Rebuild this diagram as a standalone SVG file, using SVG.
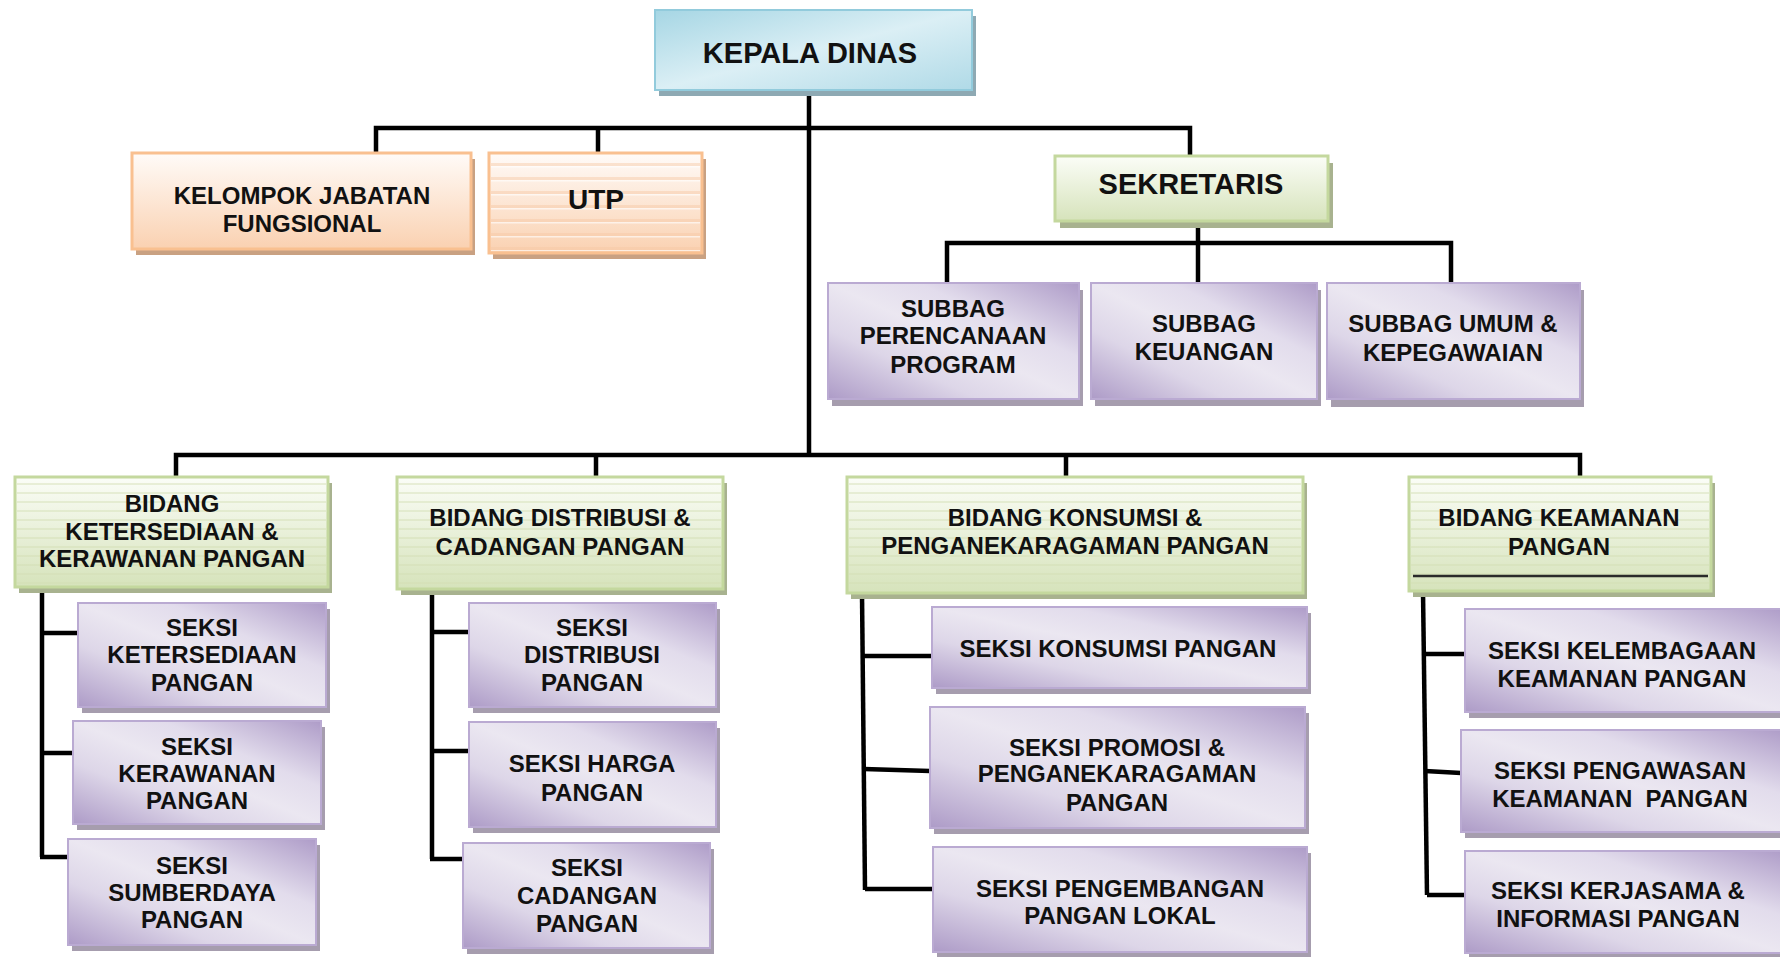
<svg xmlns="http://www.w3.org/2000/svg" width="1780" height="957" viewBox="0 0 1780 957">
<defs>
<style>
.t{font-family:"Liberation Sans",Arial,Helvetica,sans-serif;font-weight:bold;font-size:24px;fill:#111;text-anchor:middle}
.tl{font-size:29px}
.tu{font-size:28px}
.ln{fill:none;stroke:#000;stroke-width:4.5}
.shP{fill:#a69dae}
.shG{fill:#a8b28f}
.shO{fill:#c9a182}
.shB{fill:#8ea9b3}
.bxP{fill:url(#gP);stroke:#baaad2;stroke-width:2}
.bxG{fill:url(#gG);stroke:#c4d89e;stroke-width:3}
.bxGs{fill:url(#pG)}
.bxO{fill:url(#gO);stroke:#f9c090;stroke-width:3}
.bxOs{fill:url(#pO)}
.bxB{fill:url(#gB);stroke:#92cbdc;stroke-width:2}
</style>
<linearGradient id="gP" x1="0" y1="1" x2="1" y2="0">
<stop offset="0" stop-color="#ad9bc7"/>
<stop offset="0.3" stop-color="#ddd6e8"/>
<stop offset="0.5" stop-color="#ebe7f1"/>
<stop offset="0.68" stop-color="#e2dcec"/>
<stop offset="1" stop-color="#ae9cc8"/>
</linearGradient>
<linearGradient id="gG" x1="0" y1="0" x2="0" y2="1">
<stop offset="0" stop-color="#fbfdf7"/>
<stop offset="1" stop-color="#d6e3bb"/>
</linearGradient>
<pattern id="pG" x="0" y="0" width="10" height="9" patternUnits="userSpaceOnUse">
<rect x="0" y="6" width="10" height="2" fill="#d2deb4" opacity="0.45"/>
</pattern>
<linearGradient id="gO" x1="0" y1="0" x2="0" y2="1">
<stop offset="0" stop-color="#fffbf8"/>
<stop offset="1" stop-color="#fad1b1"/>
</linearGradient>
<pattern id="pO" x="0" y="0" width="10" height="14" patternUnits="userSpaceOnUse">
<rect x="0" y="9" width="10" height="3" fill="#f7c9a4" opacity="0.45"/>
<rect x="0" y="12" width="10" height="1.5" fill="#ffffff" opacity="0.6"/>
</pattern>
<linearGradient id="gB" x1="0" y1="0" x2="1" y2="1">
<stop offset="0" stop-color="#a6d6e4"/>
<stop offset="0.5" stop-color="#dbeff5"/>
<stop offset="1" stop-color="#b0dae7"/>
</linearGradient>
</defs>
<rect width="1780" height="957" fill="#ffffff"/>

<g id="connectors">
<path class="ln" d="M809,90 V455"/>
<path class="ln" d="M376,153 V128 H1190 V156"/>
<path class="ln" d="M598,128 V153"/>
<path class="ln" d="M1198,221 V283"/>
<path class="ln" d="M947,283 V243 H1451 V283"/>
<path class="ln" d="M176,477 V455 H1580 V477"/>
<path class="ln" d="M596,455 V477"/>
<path class="ln" d="M1066,455 V477"/>
<path class="ln" d="M42,587 V857"/>
<path class="ln" d="M42,633 H78 M40,753 H73 M40,857 H68"/>
<path class="ln" d="M432,589 V859"/>
<path class="ln" d="M432,632 H469 M432,751 H469 M430,859 H463"/>
<path class="ln" d="M862,593 L865,890"/>
<path class="ln" d="M862,656 H932 M864,769 L930,771 M865,889 H933"/>
<path class="ln" d="M1423,591 L1427,895"/>
<path class="ln" d="M1424,654 H1465 M1425,771 L1461,773 M1427,895 H1465"/>
</g>

<g id="kepala-dinas">
<rect class="shB" x="659" y="16" width="317" height="80"/>
<rect class="bxB" x="655" y="10" width="317" height="80"/>
<text class="t tl" x="810" y="63">KEPALA DINAS</text>
</g>

<g id="kelompok-jabatan-fungsional">
<rect class="shO" x="136" y="159" width="339" height="96"/>
<rect class="bxO" x="132" y="153" width="339" height="96"/>
<text class="t" x="302" y="204">KELOMPOK JABATAN</text>
<text class="t" x="302" y="232">FUNGSIONAL</text>
</g>

<g id="utp">
<rect class="shO" x="493" y="159" width="213" height="100"/>
<rect class="bxO" x="489" y="153" width="213" height="100"/>
<rect class="bxOs" x="491" y="155" width="209" height="96"/>
<text class="t tu" x="596" y="209">UTP</text>
</g>

<g id="sekretaris">
<rect class="shG" x="1060" y="163" width="273" height="65"/>
<rect class="bxG" x="1055" y="156" width="273" height="65"/>
<text class="t tl" x="1191" y="194">SEKRETARIS</text>
</g>

<g id="subbag-perencanaan-program">
<rect class="shP" x="832" y="290" width="251" height="116"/>
<rect class="bxP" x="828" y="283" width="251" height="116"/>
<text class="t" x="953" y="317">SUBBAG</text>
<text class="t" x="953" y="344">PERENCANAAN</text>
<text class="t" x="953" y="373">PROGRAM</text>
</g>

<g id="subbag-keuangan">
<rect class="shP" x="1095" y="290" width="226" height="116"/>
<rect class="bxP" x="1091" y="283" width="226" height="116"/>
<text class="t" x="1204" y="332">SUBBAG</text>
<text class="t" x="1204" y="360">KEUANGAN</text>
</g>

<g id="subbag-umum-kepegawaian">
<rect class="shP" x="1331" y="290" width="253" height="117"/>
<rect class="bxP" x="1327" y="283" width="253" height="116"/>
<text class="t" x="1453" y="332">SUBBAG UMUM &amp;</text>
<text class="t" x="1453" y="361">KEPEGAWAIAN</text>
</g>

<g id="bidang-ketersediaan">
<rect class="shG" x="19" y="483" width="313" height="110"/>
<rect class="bxG" x="15" y="477" width="313" height="110"/>
<rect class="bxGs" x="17" y="479" width="309" height="106"/>
<text class="t" x="172" y="512">BIDANG</text>
<text class="t" x="172" y="540">KETERSEDIAAN &amp;</text>
<text class="t" x="172" y="567">KERAWANAN PANGAN</text>
</g>

<g id="bidang-distribusi">
<rect class="shG" x="401" y="483" width="326" height="112"/>
<rect class="bxG" x="397" y="477" width="326" height="112"/>
<rect class="bxGs" x="399" y="479" width="322" height="108"/>
<text class="t" x="560" y="526">BIDANG DISTRIBUSI &amp;</text>
<text class="t" x="560" y="555">CADANGAN PANGAN</text>
</g>

<g id="bidang-konsumsi">
<rect class="shG" x="851" y="483" width="456" height="116"/>
<rect class="bxG" x="847" y="477" width="456" height="116"/>
<rect class="bxGs" x="849" y="479" width="452" height="112"/>
<text class="t" x="1075" y="526">BIDANG KONSUMSI &amp;</text>
<text class="t" x="1075" y="554">PENGANEKARAGAMAN PANGAN</text>
</g>

<g id="bidang-keamanan">
<rect class="shG" x="1413" y="483" width="302" height="114"/>
<rect class="bxG" x="1409" y="477" width="302" height="114"/>
<rect class="bxGs" x="1411" y="479" width="298" height="110"/>
<line x1="1413" y1="576" x2="1708" y2="576" stroke="#2a2a2a" stroke-width="2.5"/>
<text class="t" x="1559" y="526">BIDANG KEAMANAN</text>
<text class="t" x="1559" y="555">PANGAN</text>
</g>

<g id="seksi-ketersediaan">
<rect class="shP" x="82" y="609" width="248" height="104"/>
<rect class="bxP" x="78" y="603" width="248" height="104"/>
<text class="t" x="202" y="636">SEKSI</text>
<text class="t" x="202" y="663">KETERSEDIAAN</text>
<text class="t" x="202" y="691">PANGAN</text>
</g>

<g id="seksi-kerawanan">
<rect class="shP" x="77" y="727" width="248" height="103"/>
<rect class="bxP" x="73" y="721" width="248" height="103"/>
<text class="t" x="197" y="755">SEKSI</text>
<text class="t" x="197" y="782">KERAWANAN</text>
<text class="t" x="197" y="809">PANGAN</text>
</g>

<g id="seksi-sumberdaya">
<rect class="shP" x="72" y="845" width="248" height="106"/>
<rect class="bxP" x="68" y="839" width="248" height="106"/>
<text class="t" x="192" y="874">SEKSI</text>
<text class="t" x="192" y="901">SUMBERDAYA</text>
<text class="t" x="192" y="928">PANGAN</text>
</g>

<g id="seksi-distribusi">
<rect class="shP" x="473" y="609" width="247" height="104"/>
<rect class="bxP" x="469" y="603" width="247" height="104"/>
<text class="t" x="592" y="636">SEKSI</text>
<text class="t" x="592" y="663">DISTRIBUSI</text>
<text class="t" x="592" y="691">PANGAN</text>
</g>

<g id="seksi-harga">
<rect class="shP" x="473" y="728" width="247" height="105"/>
<rect class="bxP" x="469" y="722" width="247" height="105"/>
<text class="t" x="592" y="772">SEKSI HARGA</text>
<text class="t" x="592" y="801">PANGAN</text>
</g>

<g id="seksi-cadangan">
<rect class="shP" x="467" y="849" width="247" height="105"/>
<rect class="bxP" x="463" y="843" width="247" height="105"/>
<text class="t" x="587" y="876">SEKSI</text>
<text class="t" x="587" y="904">CADANGAN</text>
<text class="t" x="587" y="932">PANGAN</text>
</g>

<g id="seksi-konsumsi">
<rect class="shP" x="936" y="613" width="375" height="81"/>
<rect class="bxP" x="932" y="607" width="375" height="81"/>
<text class="t" x="1118" y="657">SEKSI KONSUMSI PANGAN</text>
</g>

<g id="seksi-promosi">
<rect class="shP" x="934" y="713" width="375" height="121"/>
<rect class="bxP" x="930" y="707" width="375" height="121"/>
<text class="t" x="1117" y="756">SEKSI PROMOSI &amp;</text>
<text class="t" x="1117" y="782">PENGANEKARAGAMAN</text>
<text class="t" x="1117" y="811">PANGAN</text>
</g>

<g id="seksi-pengembangan">
<rect class="shP" x="937" y="853" width="374" height="105"/>
<rect class="bxP" x="933" y="847" width="374" height="105"/>
<text class="t" x="1120" y="897">SEKSI PENGEMBANGAN</text>
<text class="t" x="1120" y="924">PANGAN LOKAL</text>
</g>

<g id="seksi-kelembagaan">
<rect class="shP" x="1469" y="615" width="320" height="103"/>
<rect class="bxP" x="1465" y="609" width="320" height="103"/>
<text class="t" x="1622" y="659">SEKSI KELEMBAGAAN</text>
<text class="t" x="1622" y="687">KEAMANAN PANGAN</text>
</g>

<g id="seksi-pengawasan">
<rect class="shP" x="1465" y="736" width="324" height="102"/>
<rect class="bxP" x="1461" y="730" width="324" height="102"/>
<text class="t" x="1620" y="779">SEKSI PENGAWASAN</text>
<text class="t" x="1620" y="807" style="white-space:pre">KEAMANAN  PANGAN</text>
</g>

<g id="seksi-kerjasama">
<rect class="shP" x="1469" y="857" width="320" height="102"/>
<rect class="bxP" x="1465" y="851" width="320" height="102"/>
<text class="t" x="1618" y="899">SEKSI KERJASAMA &amp;</text>
<text class="t" x="1618" y="927">INFORMASI PANGAN</text>
</g>
</svg>
